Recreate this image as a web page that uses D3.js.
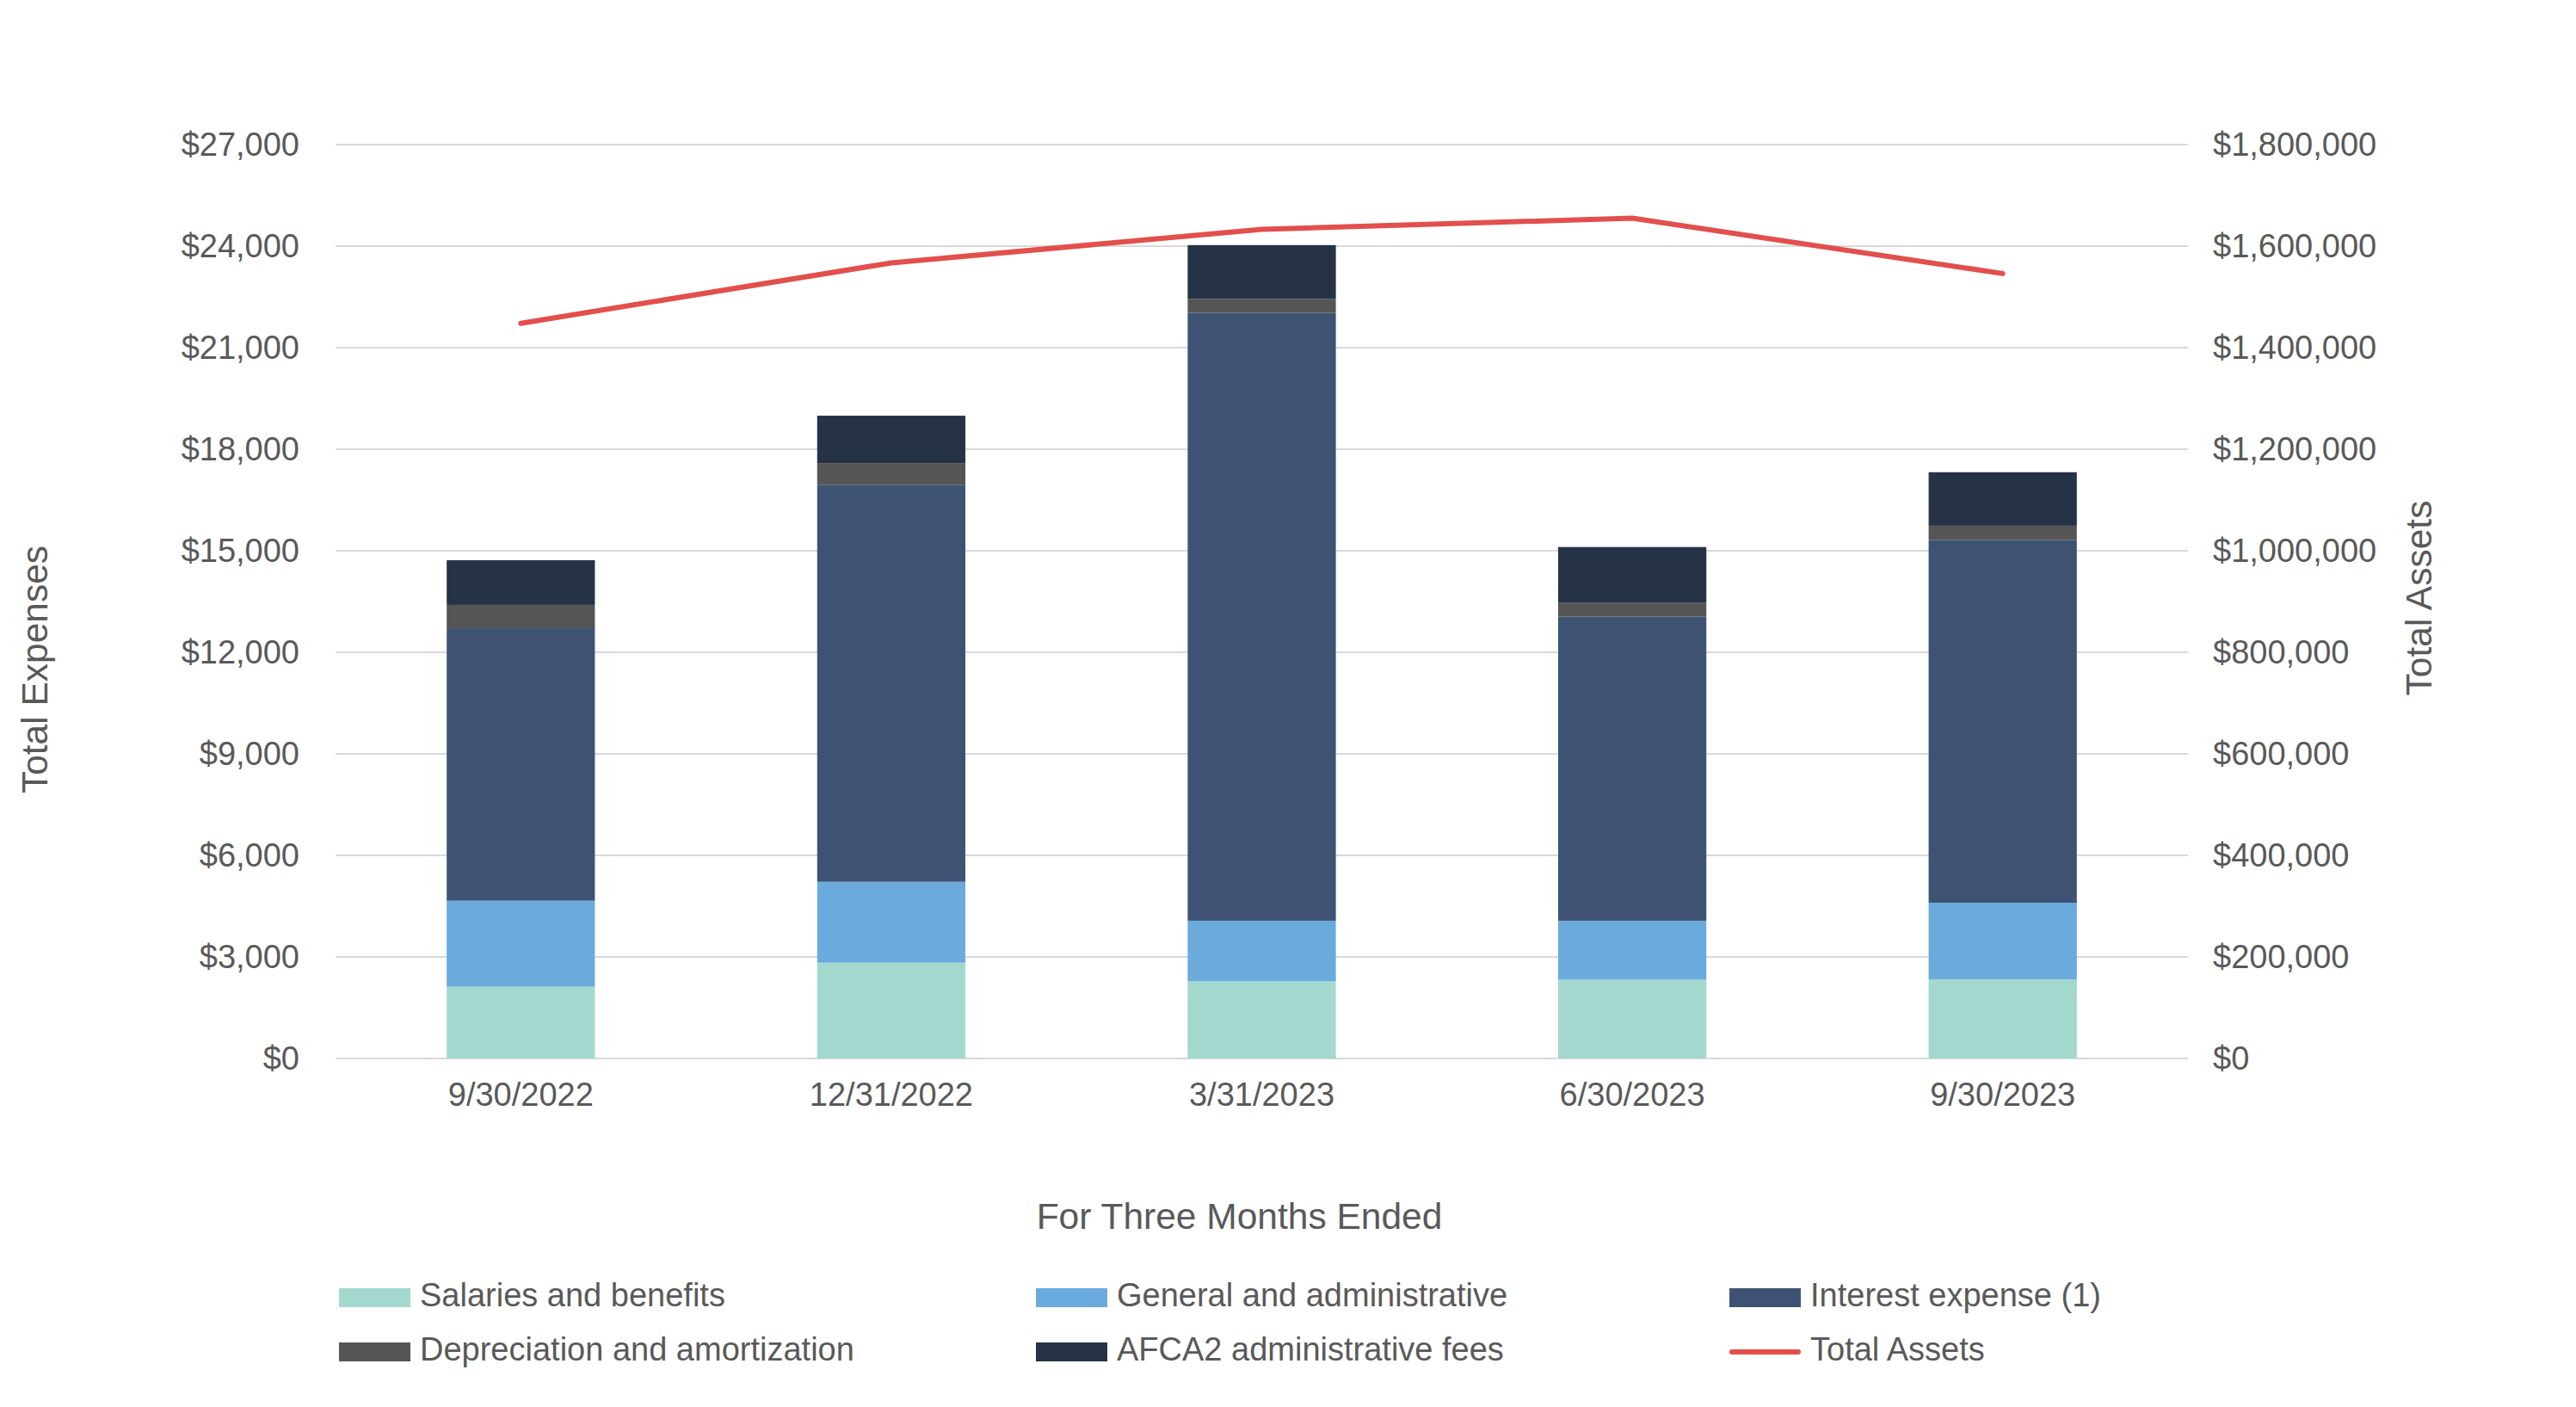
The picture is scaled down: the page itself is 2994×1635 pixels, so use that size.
<!DOCTYPE html>
<html>
<head>
<meta charset="utf-8">
<script src="https://cdn.jsdelivr.net/npm/d3@7"></script>
<style>
  html, body { margin: 0; padding: 0; background: #ffffff; }
  svg { display: block; font-family: "Liberation Sans", Arial, sans-serif; }
</style>
</head>
<body>
<svg id="chart" width="2994" height="1635"></svg>
<script>
// ---- Data ----
const categories = ["9/30/2022", "12/31/2022", "3/31/2023", "6/30/2023", "9/30/2023"];
const salaries = [2120, 2830, 2280, 2330, 2340];
const generalAdmin = [2540, 2390, 1790, 1740, 2260];
const interestExpense = [8050, 11730, 17960, 8990, 10720];
const depreciation = [690, 640, 410, 410, 420];
const afca2Fees = [1320, 1400, 1590, 1640, 1580];
const totalAssets = [1448000, 1567000, 1633000, 1655000, 1546000];

const seriesNames = ["Salaries and benefits", "General and administrative", "Interest expense (1)",
                     "Depreciation and amortization", "AFCA2 administrative fees"];
const lineName = "Total Assets";
const leftTicks = [0, 3000, 6000, 9000, 12000, 15000, 18000, 21000, 24000, 27000];
const rightTicks = [0, 200000, 400000, 600000, 800000, 1000000, 1200000, 1400000, 1600000, 1800000];
const xTitle = "For Three Months Ended";
const yLeftTitle = "Total Expenses";
const yRightTitle = "Total Assets";

// ---- Styles ----
const colors = ["#A3D8CE", "#6BAADD", "#3E5373", "#555555", "#263245"];
const lineColor = "#E24F4C";
const textColor = "#595959";
const gridColor = "#D9D9D9";
const tickFont = 38;
const titleFont = 42.5;
const legendFont = 38;

// ---- Layout ----
const plot = { left: 390, right: 2543, top: 168, bottom: 1230 };

const svg = d3.select("#chart");

const x = d3.scaleBand()
  .domain(categories)
  .range([plot.left, plot.right])
  .paddingInner(0.6)
  .paddingOuter(0.3);

const yL = d3.scaleLinear().domain([0, 27000]).range([plot.bottom, plot.top]);
const yR = d3.scaleLinear().domain([0, 1800000]).range([plot.bottom, plot.top]);

// Gridlines
svg.append("g")
  .selectAll("line")
  .data(leftTicks)
  .join("line")
  .attr("x1", plot.left)
  .attr("x2", plot.right)
  .attr("y1", d => yL(d))
  .attr("y2", d => yL(d))
  .attr("stroke", gridColor)
  .attr("stroke-width", 2);

// Stacked bars
const rows = categories.map((c, i) => ({
  cat: c,
  s0: salaries[i], s1: generalAdmin[i], s2: interestExpense[i], s3: depreciation[i], s4: afca2Fees[i]
}));
const stack = d3.stack().keys(["s0", "s1", "s2", "s3", "s4"]);
const stacked = stack(rows);

svg.append("g")
  .selectAll("g")
  .data(stacked)
  .join("g")
  .attr("fill", (d, i) => colors[i])
  .selectAll("rect")
  .data(d => d)
  .join("rect")
  .attr("x", d => x(d.data.cat))
  .attr("width", x.bandwidth())
  .attr("y", d => yL(d[1]))
  .attr("height", d => yL(d[0]) - yL(d[1]));

// Line (right axis)
const line = d3.line()
  .x((d, i) => x(categories[i]) + x.bandwidth() / 2)
  .y(d => yR(d));

svg.append("path")
  .datum(totalAssets)
  .attr("d", line)
  .attr("fill", "none")
  .attr("stroke", lineColor)
  .attr("stroke-width", 6)
  .attr("stroke-linejoin", "round")
  .attr("stroke-linecap", "round");

// Axes
const fmtL = d3.format("$,");
const leftAxis = svg.append("g")
  .attr("transform", `translate(${plot.left},0)`)
  .call(d3.axisLeft(yL).tickValues(leftTicks).tickFormat(d => fmtL(d)).tickSize(0).tickPadding(42));
leftAxis.select(".domain").remove();
leftAxis.selectAll("text")
  .attr("fill", textColor)
  .attr("font-size", tickFont)
  .attr("font-family", "Liberation Sans, Arial, sans-serif");

const rightAxis = svg.append("g")
  .attr("transform", `translate(${plot.right},0)`)
  .call(d3.axisRight(yR).tickValues(rightTicks).tickFormat(d => fmtL(d)).tickSize(0).tickPadding(29));
rightAxis.select(".domain").remove();
rightAxis.selectAll("text")
  .attr("fill", textColor)
  .attr("font-size", tickFont)
  .attr("font-family", "Liberation Sans, Arial, sans-serif");

const bottomAxis = svg.append("g")
  .attr("transform", `translate(0,${plot.bottom})`)
  .call(d3.axisBottom(x).tickSize(0).tickPadding(28));
bottomAxis.select(".domain").remove();
bottomAxis.selectAll("text")
  .attr("fill", textColor)
  .attr("font-size", tickFont)
  .attr("font-family", "Liberation Sans, Arial, sans-serif");

// Axis titles
svg.append("text")
  .attr("x", (plot.left + plot.right) / 2 - 26)
  .attr("y", 1417)
  .attr("text-anchor", "middle")
  .attr("dominant-baseline", "middle")
  .attr("fill", textColor)
  .attr("font-size", titleFont)
  .text(xTitle);

svg.append("text")
  .attr("transform", "translate(44,778) rotate(-90)")
  .attr("text-anchor", "middle")
  .attr("dominant-baseline", "middle")
  .attr("fill", textColor)
  .attr("font-size", titleFont)
  .text(yLeftTitle);

svg.append("text")
  .attr("transform", "translate(2815,695) rotate(-90)")
  .attr("text-anchor", "middle")
  .attr("dominant-baseline", "middle")
  .attr("fill", textColor)
  .attr("font-size", titleFont)
  .text(yRightTitle);

// Legend
const legendItems = [
  { name: seriesNames[0], color: colors[0], type: "rect", col: 0, row: 0 },
  { name: seriesNames[1], color: colors[1], type: "rect", col: 1, row: 0 },
  { name: seriesNames[2], color: colors[2], type: "rect", col: 2, row: 0 },
  { name: seriesNames[3], color: colors[3], type: "rect", col: 0, row: 1 },
  { name: seriesNames[4], color: colors[4], type: "rect", col: 1, row: 1 },
  { name: lineName, color: lineColor, type: "line", col: 2, row: 1 }
];
const colX = [394, 1204, 2010];
const rowY = [1508, 1571];

const lg = svg.append("g")
  .selectAll("g")
  .data(legendItems)
  .join("g")
  .attr("transform", d => `translate(${colX[d.col]},${rowY[d.row]})`);

lg.filter(d => d.type === "rect")
  .append("rect")
  .attr("x", 0)
  .attr("y", -11)
  .attr("width", 83)
  .attr("height", 22)
  .attr("fill", d => d.color);

lg.filter(d => d.type === "line")
  .append("line")
  .attr("x1", 3)
  .attr("x2", 80)
  .attr("y1", 0)
  .attr("y2", 0)
  .attr("stroke", d => d.color)
  .attr("stroke-width", 6)
  .attr("stroke-linecap", "round");

lg.append("text")
  .attr("x", 94)
  .attr("y", 0)
  .attr("dominant-baseline", "middle")
  .attr("fill", textColor)
  .attr("font-size", legendFont)
  .text(d => d.name);
</script>
</body>
</html>
